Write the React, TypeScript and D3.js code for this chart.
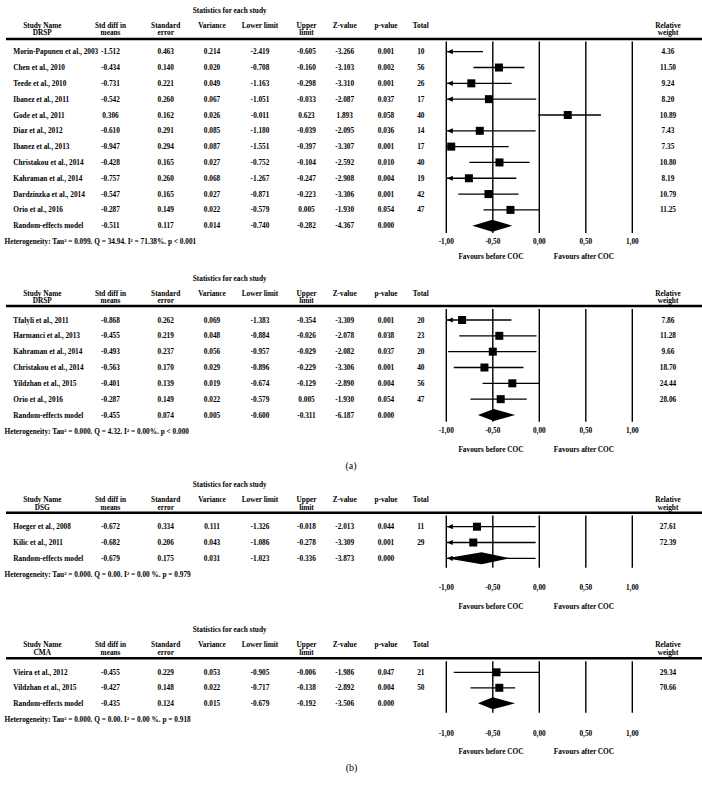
import React from 'react';
import * as d3 from 'd3';

// ---------------- DATA ----------------
// Panel (a) top: DRSP
const a1Names = ['Morin-Papunen et al., 2003', 'Chen et al., 2010', 'Teede et al., 2010', 'Ibanez et al., 2011', 'Gode et al., 2011', 'Diaz et al., 2012', 'Ibanez et al., 2013', 'Christakou et al., 2014', 'Kahraman et al., 2014', 'Dardzinzka et al., 2014', 'Orio et al., 2016', 'Random-effects model'];
const a1Std = [-1.512, -0.434, -0.731, -0.542, 0.306, -0.610, -0.947, -0.428, -0.757, -0.547, -0.287, -0.511];
const a1Se = [0.463, 0.140, 0.221, 0.260, 0.162, 0.291, 0.294, 0.165, 0.260, 0.165, 0.149, 0.117];
const a1Var = [0.214, 0.020, 0.049, 0.067, 0.026, 0.085, 0.087, 0.027, 0.068, 0.027, 0.022, 0.014];
const a1Lower = [-2.419, -0.708, -1.163, -1.051, -0.011, -1.180, -1.551, -0.752, -1.267, -0.871, -0.579, -0.740];
const a1Upper = [-0.605, -0.160, -0.298, -0.033, 0.623, -0.039, -0.397, -0.104, -0.247, -0.223, 0.005, -0.282];
const a1Z = [-3.266, -3.103, -3.310, -2.087, 1.893, -2.095, -3.307, -2.592, -2.908, -3.306, -1.930, -4.367];
const a1P = [0.001, 0.002, 0.001, 0.037, 0.058, 0.036, 0.001, 0.010, 0.004, 0.001, 0.054, 0.000];
const a1Total = [10, 56, 26, 17, 40, 14, 17, 40, 19, 42, 47, null];
const a1Weight = [4.36, 11.50, 9.24, 8.20, 10.89, 7.43, 7.35, 10.80, 8.19, 10.79, 11.25, null];
const a1PlotEst = [-1.512, -0.434, -0.731, -0.542, 0.306, -0.640, -0.947, -0.428, -0.757, -0.547, -0.310, -0.505];
const a1PlotLo = [-2.419, -0.708, -1.163, -1.051, -0.011, -1.180, -1.551, -0.752, -1.267, -0.871, -0.600, -0.720];
const a1PlotHi = [-0.605, -0.160, -0.298, -0.033, 0.663, -0.039, -0.330, -0.104, -0.247, -0.223, 0.000, -0.290];
const a1Het = 'Heterogeneity: Tau² = 0.099. Q = 34.94. I² = 71.38%. p < 0.001';

// Panel (a) bottom: DRSP
const a2Names = ['Tfalyli et al., 2011', 'Harmanci et al., 2013', 'Kahraman et al., 2014', 'Christakou et al., 2014', 'Yildzhan et al., 2015', 'Orio et al., 2016', 'Random-effects model'];
const a2Std = [-0.868, -0.455, -0.493, -0.563, -0.401, -0.287, -0.455];
const a2Se = [0.262, 0.219, 0.237, 0.170, 0.139, 0.149, 0.074];
const a2Var = [0.069, 0.048, 0.056, 0.029, 0.019, 0.022, 0.005];
const a2Lower = [-1.383, -0.884, -0.957, -0.896, -0.674, -0.579, -0.600];
const a2Upper = [-0.354, -0.026, -0.029, -0.229, -0.129, 0.005, -0.311];
const a2Z = [-3.309, -2.078, -2.082, -3.306, -2.890, -1.930, -6.187];
const a2P = [0.001, 0.038, 0.037, 0.001, 0.004, 0.054, 0.000];
const a2Total = [20, 23, 20, 40, 56, 47, null];
const a2Weight = [7.86, 11.28, 9.66, 18.70, 24.44, 28.06, null];
const a2PlotEst = [-0.830, -0.430, -0.500, -0.590, -0.290, -0.415, -0.490];
const a2PlotLo = [-1.383, -0.860, -0.980, -0.920, -0.610, -0.740, -0.660];
const a2PlotHi = [-0.300, -0.030, -0.030, -0.170, 0.000, -0.135, -0.260];
const a2Het = 'Heterogeneity: Tau² = 0.000. Q = 4.32. I² = 0.00%. p < 0.000';

// Panel (b) top: DSG
const b1Names = ['Hoeger et al., 2008', 'Kilic et al., 2011', 'Random-effects model'];
const b1Std = [-0.672, -0.682, -0.679];
const b1Se = [0.334, 0.206, 0.175];
const b1Var = [0.111, 0.043, 0.031];
const b1Lower = [-1.326, -1.086, -1.023];
const b1Upper = [-0.018, -0.278, -0.336];
const b1Z = [-2.013, -3.309, -3.873];
const b1P = [0.044, 0.001, 0.000];
const b1Total = [11, 29, null];
const b1Weight = [27.61, 72.39, null];
const b1PlotEst = [-0.670, -0.710, -0.620];
const b1PlotLo = [-1.326, -1.086, -1.023];
const b1PlotHi = [-0.040, -0.040, -0.315];
const b1Whisker = [-1.023, -0.040];
const b1Het = 'Heterogeneity: Tau² = 0.000. Q = 0.00. I² = 0.00 %. p = 0.979';

// Panel (b) bottom: CMA
const b2Names = ['Vieira et al., 2012', 'Vildzhan et al., 2015', 'Random-effects model'];
const b2Std = [-0.455, -0.427, -0.435];
const b2Se = [0.229, 0.148, 0.124];
const b2Var = [0.053, 0.022, 0.015];
const b2Lower = [-0.905, -0.717, -0.679];
const b2Upper = [-0.006, -0.138, -0.192];
const b2Z = [-1.986, -2.892, -3.506];
const b2P = [0.047, 0.004, 0.000];
const b2Total = [21, 50, null];
const b2Weight = [29.34, 70.66, null];
const b2PlotEst = [-0.460, -0.430, -0.500];
const b2PlotLo = [-0.920, -0.740, -0.660];
const b2PlotHi = [0.000, -0.260, -0.260];
const b2Het = 'Heterogeneity: Tau² = 0.000. Q = 0.00. I² = 0.00 %. p = 0.918';

const axisTicks = [-1, -0.5, 0, 0.5, 1];
const favourLabels = ['Favours before COC', 'Favours after COC'];

// ---------------- STYLE / LAYOUT ----------------
const FONT = "'Liberation Serif', 'Times New Roman', serif";
const FS = 7.3;
const x = d3.scaleLinear().domain([-1, 1]).range([446.3, 632.3]);
const COLX = [110.5, 165.7, 212, 260, 306.5, 344.7, 386, 420.8];
const WX = 668;
const NAMEX = 13.3;

const f3 = (v) => d3.format('.3f')(v).replace('\u2212', '-');
const f2 = (v) => d3.format('.2f')(v).replace('\u2212', '-');
const fTick = (v) => d3.format('.2f')(v).replace('\u2212', '-').replace('.', ',');

function T({ x: xx, y, children, anchor = 'middle', size = FS, weight = 'bold' }) {
  return (
    <text x={xx} y={y} dy="0.35em" textAnchor={anchor} fontFamily={FONT} fontSize={size} fontWeight={weight} fill="#000">
      {children}
    </text>
  );
}

function Panel({ group, d, L }) {
  const n = d.names.length;
  const rowY = (i) => L.rowY0 + i * L.rowStep;
  const cols = [d.std, d.se, d.vr, d.lo, d.hi, d.z, d.p];
  const headers = [
    ['Std diff in', 'means'],
    ['Standard', 'error'],
    ['Variance'],
    ['Lower limit'],
    ['Upper', 'limit'],
    ['Z-value'],
    ['p-value'],
    ['Total'],
  ];
  return (
    <g>
      <T x={229.7} y={L.statsY}>Statistics for each study</T>
      <T x={42.3} y={L.h1}>Study Name</T>
      <T x={42.3} y={L.h2}>{group}</T>
      {headers.map((h, k) => (
        <g key={k}>
          <T x={COLX[k]} y={L.h1}>{h[0]}</T>
          {h[1] && <T x={COLX[k]} y={L.h2}>{h[1]}</T>}
        </g>
      ))}
      <T x={WX} y={L.h1}>Relative</T>
      <T x={WX} y={L.h2}>weight</T>
      <line x1={6} x2={702} y1={L.thick} y2={L.thick} stroke="#000" strokeWidth={2.6} />
      {d.names.map((nm, i) => (
        <g key={'r' + i}>
          <T x={NAMEX} y={rowY(i)} anchor="start">{nm}</T>
          {cols.map((c, k) => (
            <T key={k} x={COLX[k]} y={rowY(i)}>{f3(c[i])}</T>
          ))}
          {d.total[i] != null && <T x={COLX[7]} y={rowY(i)}>{String(d.total[i])}</T>}
          {d.weight[i] != null && <T x={WX} y={rowY(i)}>{f2(d.weight[i])}</T>}
        </g>
      ))}
      <T x={4.5} y={L.het} anchor="start">{d.het}</T>
      {axisTicks.map((t) => (
        <g key={'v' + t}>
          <line x1={x(t)} x2={x(t)} y1={L.vTop} y2={L.vBot} stroke="#000" strokeWidth={1.4} />
          <T x={x(t)} y={L.tick}>{fTick(t)}</T>
        </g>
      ))}
      <T x={x(-0.52)} y={L.fav}>{favourLabels[0]}</T>
      <T x={x(0.48)} y={L.fav}>{favourLabels[1]}</T>
      {d.pEst.map((est, i) => {
        const y = rowY(i);
        const lo = d.pLo[i];
        const hi = d.pHi[i];
        const cLo = Math.max(lo, -1);
        const cHi = Math.min(hi, 1);
        const isDiamond = i === n - 1;
        const arrow = (tipY) => (
          <path d={`M${x(-1) + 0.8},${tipY} L${x(-1) + 6.5},${tipY - 2.6} L${x(-1) + 6.5},${tipY + 2.6} Z`} fill="#000" />
        );
        if (isDiamond) {
          const w = d.whisker;
          return (
            <g key={'m' + i}>
              {w && <line x1={x(Math.max(w[0], -1))} x2={x(Math.min(w[1], 1))} y1={y} y2={y} stroke="#000" strokeWidth={1.3} />}
              {w && w[0] < -1 && arrow(y)}
              <path d={`M${x(cLo)},${y} L${x(est)},${y - 6} L${x(cHi)},${y} L${x(est)},${y + 6} Z`} fill="#000" />
            </g>
          );
        }
        return (
          <g key={'m' + i}>
            <line x1={x(cLo)} x2={x(cHi)} y1={y} y2={y} stroke="#000" strokeWidth={1.3} />
            {lo < -1 && arrow(y)}
            {est >= -1 && est <= 1 && <rect x={x(est) - 4} y={y - 4} width={8} height={8} fill="#000" />}
          </g>
        );
      })}
    </g>
  );
}

const mk = (names, std, se, vr, lo, hi, z, p, total, weight, pEst, pLo, pHi, het, whisker = null) => ({
  names, std, se, vr, lo, hi, z, p, total, weight, pEst, pLo, pHi, het, whisker,
});

export default function App() {
  const dA1 = mk(a1Names, a1Std, a1Se, a1Var, a1Lower, a1Upper, a1Z, a1P, a1Total, a1Weight, a1PlotEst, a1PlotLo, a1PlotHi, a1Het);
  const dA2 = mk(a2Names, a2Std, a2Se, a2Var, a2Lower, a2Upper, a2Z, a2P, a2Total, a2Weight, a2PlotEst, a2PlotLo, a2PlotHi, a2Het);
  const dB1 = mk(b1Names, b1Std, b1Se, b1Var, b1Lower, b1Upper, b1Z, b1P, b1Total, b1Weight, b1PlotEst, b1PlotLo, b1PlotHi, b1Het, b1Whisker);
  const dB2 = mk(b2Names, b2Std, b2Se, b2Var, b2Lower, b2Upper, b2Z, b2P, b2Total, b2Weight, b2PlotEst, b2PlotLo, b2PlotHi, b2Het);
  const LA1 = { statsY: 10, h1: 25, h2: 32.5, thick: 39, rowY0: 51.7, rowStep: 15.82, het: 241, vTop: 41.5, vBot: 233, tick: 241, fav: 256 };
  const LA2 = { statsY: 278, h1: 293, h2: 300.7, thick: 306, rowY0: 320, rowStep: 15.83, het: 431, vTop: 309, vBot: 421.7, tick: 430.7, fav: 449.7 };
  const LB1 = { statsY: 484.3, h1: 499, h2: 507, thick: 512.7, rowY0: 526.7, rowStep: 15.8, het: 574, vTop: 515.5, vBot: 567.7, tick: 587.7, fav: 606 };
  const LB2 = { statsY: 629.3, h1: 644.3, h2: 652.3, thick: 658.3, rowY0: 672.3, rowStep: 15.5, het: 719, vTop: 661.3, vBot: 712.7, tick: 733.3, fav: 751 };
  return (
    <svg width={702} height={791} style={{ position: 'absolute', left: 0, top: 0, background: '#fff' }}>
      <rect width={702} height={791} fill="#fff" />
      <Panel group="DRSP" d={dA1} L={LA1} />
      <Panel group="DRSP" d={dA2} L={LA2} />
      <T x={351} y={465} size={10} weight="normal">(a)</T>
      <Panel group="DSG" d={dB1} L={LB1} />
      <Panel group="CMA" d={dB2} L={LB2} />
      <T x={351.5} y={767.3} size={10} weight="normal">(b)</T>
    </svg>
  );
}
